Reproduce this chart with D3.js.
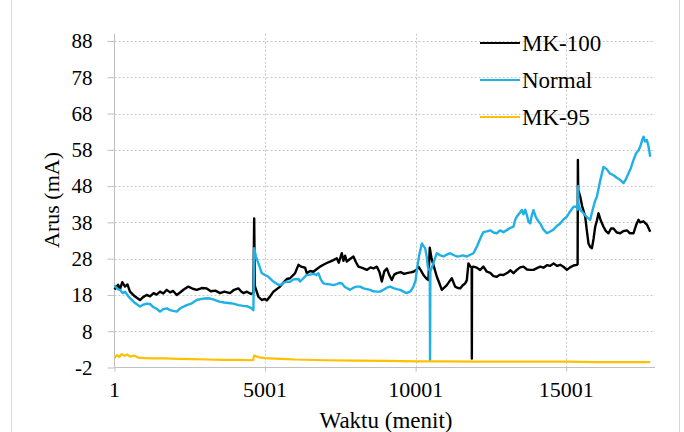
<!DOCTYPE html>
<html>
<head>
<meta charset="utf-8">
<script src="https://cdn.jsdelivr.net/npm/d3@7/dist/d3.min.js"></script>
<style>
  .serif-label { font-family: "Liberation Serif", "Times New Roman", serif; }
</style>
</head>
<body style="margin:0">
<svg id="chart" width="684" height="432"></svg>
<script>
// Tick labels
const xTicks = [1, 5001, 10001, 15001];
const yTicks = [-2, 8, 18, 28, 38, 48, 58, 68, 78, 88];

// Series names and colours
const seriesNames = ["MK-100", "Normal", "MK-95"];
const seriesColors = ["#000000", "#1fb0e6", "#ffc000"];

// MK-100 (minute, mA)
const mk100Minutes = [1,120,184,260,350,430,516,650,848,950,1070,1180,1300,1400,1513,1620,1735,1850,1950,2067,2200,2300,2453,2600,2730,2900,3063,3200,3350,3506,3650,3838,3950,4115,4200,4281,4400,4520,4613,4640,4660,4780,4891,4990,5057,5170,5278,5390,5500,5620,5722,5832,5942,5998,6108,6200,6330,6386,6496,6606,6700,6828,6938,7050,7160,7270,7383,7450,7549,7602,7660,7715,7820,7935,8020,8101,8250,8380,8500,8600,8712,8800,8878,8960,9044,9120,9210,9290,9376,9500,9620,9709,9830,9928,10041,10094,10180,10260,10350,10426,10470,10530,10592,10705,10800,10871,10950,11037,11147,11203,11260,11313,11400,11479,11560,11646,11700,11755,11820,11862,11868,11874,11921,12034,12144,12253,12366,12480,12585,12698,12800,12918,13050,13150,13250,13363,13470,13582,13700,13805,13915,14030,14138,14247,14360,14470,14580,14700,14802,14920,15024,15130,15246,15356,15380,15389,15400,15466,15530,15632,15690,15741,15800,15855,15910,15964,16021,16074,16150,16240,16320,16406,16490,16572,16680,16795,16904,17017,17120,17236,17320,17402,17459,17568,17681,17791];
const mk100Values = [19.5,20.8,19.6,21.5,20.3,20.9,18.9,17.8,16.6,17.4,18.0,17.6,18.5,18.1,18.9,18.4,19.4,18.7,19.1,18.0,18.8,19.5,20.3,19.7,19.4,19.9,19.8,19.0,19.2,18.5,18.9,18.5,19.3,19.8,19.0,18.5,18.9,18.3,18.5,39.1,20.5,17.5,16.6,16.9,16.5,17.6,18.9,19.6,20.3,21.5,22.4,22.6,23.5,24.0,26.3,25.8,25.5,24.0,24.6,24.4,25.0,25.8,26.3,26.8,27.2,27.6,28.1,26.9,29.5,27.4,28.8,27.2,27.9,28.6,27.0,25.8,25.4,24.9,25.6,25.3,25.8,24.3,21.7,24.5,25.3,23.6,22.1,23.6,24.0,24.3,23.8,24.0,24.2,24.4,25.0,25.8,24.7,23.5,22.6,22.1,31.0,28.0,26.3,23.0,21.0,19.4,20.0,20.7,22.0,22.6,21.4,20.3,19.9,19.8,20.6,21.2,22.0,26.7,25.8,25.6,0.5,25.6,25.8,25.5,24.9,25.8,24.4,24.1,23.2,23.0,23.6,23.5,24.1,24.8,24.0,24.9,25.6,25.8,25.0,24.9,24.9,25.4,25.8,25.5,26.2,26.0,26.7,26.0,26.3,25.7,24.9,25.6,26.1,26.3,26.5,55.2,47.0,45.1,42.5,39.6,35.5,32.2,31.2,30.9,33.5,36.8,38.5,40.5,38.5,36.8,35.6,35.0,36.3,36.3,35.2,35.0,35.6,35.8,35.0,35.0,37.2,38.7,38.0,38.3,37.4,35.4];

// Normal (minute, mA)
const normalMinutes = [1,100,184,270,350,430,516,650,848,950,1070,1180,1300,1400,1513,1620,1735,1850,1950,2067,2200,2400,2550,2730,2900,3063,3174,3300,3506,3650,3838,3950,4115,4281,4400,4558,4613,4640,4700,4780,4891,5000,5110,5278,5400,5500,5610,5722,5832,5942,6108,6164,6274,6386,6496,6606,6700,6772,6850,6938,7050,7160,7270,7383,7480,7549,7650,7825,7935,8040,8157,8270,8380,8489,8600,8712,8821,8950,9044,9154,9270,9376,9486,9600,9709,9830,9928,10000,10041,10120,10207,10260,10317,10370,10406,10470,10480,10490,10572,10640,10705,10800,10871,10924,11037,11147,11260,11370,11479,11560,11702,11800,11921,12034,12120,12200,12253,12366,12480,12585,12698,12800,12918,13050,13150,13250,13300,13363,13450,13529,13582,13640,13695,13750,13805,13860,13915,13990,14060,14138,14247,14360,14470,14580,14690,14802,14910,15024,15130,15246,15356,15385,15395,15409,15466,15575,15680,15798,15880,15964,16021,16130,16240,16353,16450,16572,16680,16795,16904,16990,17070,17150,17236,17320,17402,17459,17520,17568,17620,17681,17735,17791];
const normalValues = [20.7,19.6,19.4,18.5,18.9,18.0,17.1,16.0,14.8,15.3,15.6,15.5,14.6,14.2,13.4,14.1,14.3,13.8,13.6,13.4,14.4,15.2,15.6,16.6,16.9,17.1,17.0,16.7,16.1,15.9,15.7,15.6,15.2,15.0,14.9,14.3,13.8,30.9,28.5,26.7,24.0,23.5,23.0,21.7,21.0,20.7,21.3,21.7,21.6,22.3,22.4,21.7,22.6,23.5,23.6,23.8,23.5,24.0,22.3,21.2,21.0,20.9,20.7,21.0,21.3,21.2,20.2,19.4,20.0,20.3,20.3,19.8,19.6,19.4,19.0,18.9,18.9,19.5,20.0,20.3,19.9,19.6,19.4,18.9,18.5,19.0,20.3,22.0,24.9,29.0,32.2,31.5,30.9,28.5,25.8,24.5,0.1,24.5,26.3,28.0,29.5,29.0,28.8,28.6,29.1,29.5,29.0,28.6,28.7,28.9,28.6,29.0,29.5,31.3,33.0,34.5,35.3,35.5,35.8,35.2,35.0,35.8,35.3,36.0,36.5,36.8,38.5,39.6,40.5,41.4,40.2,41.5,40.0,38.2,37.7,40.0,41.4,39.5,38.5,37.7,36.0,35.0,35.5,36.0,37.0,37.7,38.8,39.6,41.0,42.3,42.3,41.5,48.0,43.0,41.5,40.5,39.5,38.7,41.5,44.0,45.1,49.5,53.3,52.6,51.5,51.0,50.3,49.7,48.8,50.0,51.5,53.0,55.2,57.0,57.8,58.9,60.5,61.6,60.3,60.7,58.9,56.1];

// MK-95 (minute, mA)
const mk95Minutes = [1,80,160,240,330,420,520,650,800,1000,1300,1700,2100,2600,3100,3600,4100,4600,4640,4800,5000,5500,6000,7000,8000,9000,10000,11000,12000,13000,14000,15000,16000,17000,17791];
const mk95Values = [0.6,1.4,0.9,1.7,1.2,1.6,1.0,1.3,0.7,0.6,0.5,0.5,0.4,0.3,0.2,0.1,0.1,0.0,1.3,0.8,0.6,0.4,0.2,0.0,-0.1,-0.2,-0.3,-0.3,-0.4,-0.4,-0.4,-0.4,-0.5,-0.5,-0.5];

const seriesMinutes = [mk100Minutes, normalMinutes, mk95Minutes];
const seriesValues = [mk100Values, normalValues, mk95Values];

const svg = d3.select("#chart");
const plotLeft = 114.5, plotRight = 655, plotTop = 33.7, plotBottom = 367.5;

const x = d3.scaleLinear().domain([1, 17950]).range([plotLeft, plotRight]);
const y = d3.scaleLinear().domain([-2, 90]).range([plotBottom, plotTop]);

// Outer chart border
svg.append("line").attr("x1", 11.5).attr("x2", 11.5).attr("y1", 0).attr("y2", 432)
  .attr("stroke", "#d9d9d9").attr("stroke-width", 1);
svg.append("line").attr("x1", 679.5).attr("x2", 679.5).attr("y1", 0).attr("y2", 432)
  .attr("stroke", "#d9d9d9").attr("stroke-width", 1);

// Horizontal gridlines
svg.append("g").selectAll("line").data(yTicks.filter(d => d > -2)).join("line")
  .attr("x1", plotLeft).attr("x2", plotRight)
  .attr("y1", d => Math.round(y(d)) + 0.5).attr("y2", d => Math.round(y(d)) + 0.5)
  .attr("stroke", "#c8c8c8").attr("stroke-width", 1).attr("stroke-dasharray", "2,2");

// Vertical gridlines
svg.append("g").selectAll("line").data(xTicks.filter(d => d > 1)).join("line")
  .attr("x1", d => Math.round(x(d)) + 0.5).attr("x2", d => Math.round(x(d)) + 0.5)
  .attr("y1", plotTop).attr("y2", plotBottom)
  .attr("stroke", "#c8c8c8").attr("stroke-width", 1).attr("stroke-dasharray", "2,2");

// Axis lines and ticks (labels are drawn separately below)
const gy = svg.append("g").attr("transform", `translate(${plotLeft},0)`)
  .call(d3.axisLeft(y).tickValues(yTicks).tickSize(7).tickFormat(""));
gy.select(".domain").attr("stroke", "#bfbfbf").attr("d", `M0,${plotTop}V${plotBottom}`);
gy.selectAll(".tick line").attr("stroke", "#bfbfbf");

const gx = svg.append("g").attr("transform", `translate(0,${plotBottom})`)
  .call(d3.axisBottom(x).tickValues(xTicks).tickSize(4).tickFormat(""));
gx.select(".domain").attr("stroke", "#bfbfbf").attr("d", `M${plotLeft},0H${plotRight}`);
gx.selectAll(".tick line").attr("stroke", "#bfbfbf");

// Series lines
const line = d3.line().x(d => x(d[0])).y(d => y(d[1]));
seriesNames.forEach((name, i) => {
  const pts = seriesMinutes[i].map((m, j) => [m, seriesValues[i][j]]);
  svg.append("path").datum(pts)
    .attr("fill", "none")
    .attr("stroke", seriesColors[i])
    .attr("stroke-width", i === 2 ? 2.2 : 2.4)
    .attr("stroke-linejoin", "round")
    .attr("d", line);
});

// All labels in one group, serif
const labels = svg.append("g");

// Y tick labels
yTicks.forEach(v => {
  labels.append("text").attr("class", "serif-label")
    .style("font-family", '"Liberation Serif"').attr("font-size", 21)
    .attr("x", plotLeft - 22).attr("y", y(v)).attr("dy", "0.35em")
    .attr("text-anchor", "end").text(String(v));
});

// X tick labels
xTicks.forEach(v => {
  labels.append("text").attr("class", "serif-label")
    .style("font-family", '"Liberation Serif"').attr("font-size", 22)
    .attr("x", x(v)).attr("y", 397).attr("text-anchor", "middle").text(String(v));
});

// Legend
const legendY = [43, 80, 117];
seriesNames.forEach((name, i) => {
  labels.append("line").attr("x1", 480).attr("x2", 520)
    .attr("y1", legendY[i]).attr("y2", legendY[i])
    .attr("stroke", seriesColors[i]).attr("stroke-width", 2);
  labels.append("text").attr("class", "serif-label")
    .style("font-family", '"Liberation Serif"').attr("font-size", 23)
    .attr("x", 522).attr("y", legendY[i] + 8).text(name);
});

// Axis titles
labels.append("text").attr("class", "serif-label")
  .style("font-family", '"Liberation Serif"').attr("font-size", 23)
  .attr("x", 386).attr("y", 428).attr("text-anchor", "middle").text("Waktu (menit)");
labels.append("text").attr("class", "serif-label")
  .style("font-family", '"Liberation Serif"').attr("font-size", 22)
  .attr("transform", "translate(59,200) rotate(-90)")
  .attr("text-anchor", "middle").text("Arus (mA)");
</script>
</body>
</html>
